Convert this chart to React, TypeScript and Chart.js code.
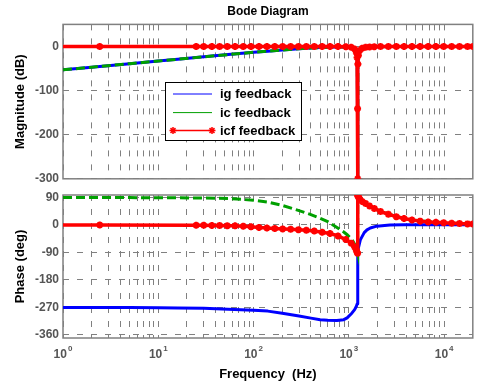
import React, { useEffect, useRef } from 'react';
import { Chart, registerables } from 'chart.js';
import { drawPoint } from 'chart.js/helpers';

Chart.register(...registerables);

// ---------------- data ----------------
// frequency grid of the two plain curves (Hz)
const lineFreqHz = [1, 2, 5, 10, 16, 30, 54, 100, 141, 200, 300, 400, 500, 600, 750, 885, 960, 1080, 1150, 1200, 1225, 1235, 1240, 1245, 1260, 1320, 1450, 1550, 1680, 1960, 2700, 3800, 5000, 7000, 10000, 14000, 20000];

const igMagDb = [-53, -47, -39, -33, -29, -23.5, -18.5, -13.3, -10.6, -7.9, -5.1, -3.6, -2.6, -1.9, -1.3, -1.2, -1.5, -3, -6, -13, -25, -141, -300, -40, -20, -8, -3, -2, -1.2, -0.6, -0.2, 0, 0, 0, 0, 0, 0];
const icMagDb = [-53, -47, -39, -33, -29, -23.5, -18.5, -13.3, -10.6, -7.9, -5.1, -3.6, -2.6, -1.9, -1.3, -1.2, -1.5, -3, -6, -13, -25, -141, -300, -40, -20, -8, -3, -2, -1.2, -0.6, -0.2, 0, 0, 0, 0, 0, 0];

const igPhaseDeg = [-270, -270, -270.5, -271, -271.5, -273, -276, -279, -282, -289, -298, -305, -310, -312, -313, -310, -304, -288, -277, -266, -258, -252, -97, -90, -75, -49, -25, -16, -10, -4, 0, 1, 1, 1, 1, 1, 1];
const icPhaseDeg = [90, 90, 89.5, 89, 89, 88, 86.5, 81, 75, 64, 47, 34, 22, 11, -8, -23, -32, -48, -63, -76, -85, -90, 97, 95, 91, 84, 73, 67, 61, 50, 34, 21, 15, 10.5, 7, 5, 3];

// frequency grid of the marked curve (Hz)
const icfFreqHz = [0.9, 2.43, 25, 30, 36.5, 44, 53, 64, 78, 94, 114, 138, 167, 202, 245, 296, 358, 434, 525, 635, 769, 931, 1060, 1150, 1200, 1220, 1235, 1240, 1245, 1260, 1300, 1380, 1500, 1650, 1850, 2150, 2600, 3150, 3800, 4600, 5600, 6800, 8200, 9900, 12000, 14500, 17600, 20000];
const icfMagDb = [0, 0, 0, 0, 0, 0, 0, 0, 0, 0, 0, 0, 0, 0, 0, 0, 0, 0, 0, 0, 0, -0.5, -2, -6, -14, -25, -141, -300, -40, -20, -9, -4, -2, -1, -0.5, 0, 0, 0, 0, 0, 0, 0, 0, 0, 0, 0, 0, 0];
const icfPhaseDeg = [0, 0, -1, -1, -1.5, -2, -2.5, -3, -4, -6, -8, -10, -11.5, -13, -14, -15.5, -17.5, -20, -24, -28, -36, -48, -60, -72, -83, -89, -93, 97, 95, 91, 85, 77, 70, 62, 54, 44, 35, 27, 21, 16, 12.5, 10, 8.5, 7, 5.5, 4.5, 3.5, 3];

const seriesLabels = ['ig feedback', 'ic feedback', 'icf feedback'];

// axis ticks
const xGridHz = [1, 2, 3, 4, 5, 6, 7, 8, 9, 10, 20, 30, 40, 50, 60, 70, 80, 90, 100, 200, 300, 400, 500, 600, 700, 800, 900, 1000, 2000, 3000, 4000, 5000, 6000, 7000, 8000, 9000, 10000];
const xDecadeValues = [1, 10, 100, 1000, 10000];
const xDecadeBase = '10';
const xDecadeExponents = ['0', '1', '2', '3', '4'];
const magTicks = [-300, -200, -100, 0];
const phaseTicks = [-360, -270, -180, -90, 0, 90];

// ---------------- styling ----------------
const FONT = "'Liberation Sans', Arial, Helvetica, sans-serif";
const GRID = '#808080';
const TICK_COLOR = '#555555';
const DASH = [6, 8];
const COLORS = ['#0000ff', '#00a000', '#ff0000'];

Chart.defaults.font.family = FONT;

const pts = (xs: number[], ys: number[]) => xs.map((x, i) => ({ x, y: ys[i] }));

const boxPlugin = {
  id: 'matlabBox',
  beforeDatasetsDraw(chart: any) {
    const { ctx, chartArea } = chart;
    const { left, top, right, bottom } = chartArea;
    ctx.save();
    ctx.strokeStyle = '#808080';
    ctx.lineWidth = 1.5;
    ctx.setLineDash([]);
    ctx.strokeRect(left, top, right - left, bottom - top);
    ctx.restore();
  },
};

// decade labels "10^n" with a raised exponent, placed by the x scale
const decadeLabelPlugin = {
  id: 'decadeLabels',
  afterDraw(chart: any) {
    const { ctx, chartArea } = chart;
    const xs = chart.scales.x;
    const yMid = chartArea.bottom + 17;
    ctx.save();
    ctx.fillStyle = TICK_COLOR;
    ctx.textBaseline = 'middle';
    ctx.textAlign = 'left';
    xDecadeValues.forEach((v, i) => {
      const px = xs.getPixelForValue(v);
      ctx.font = `bold 12px ${FONT}`;
      const wb = ctx.measureText(xDecadeBase).width;
      ctx.font = `bold 8px ${FONT}`;
      const we = ctx.measureText(xDecadeExponents[i]).width;
      const x0 = px - (wb + 1 + we) / 2;
      ctx.font = `bold 12px ${FONT}`;
      ctx.fillText(xDecadeBase, x0, yMid);
      ctx.font = `bold 8px ${FONT}`;
      ctx.fillText(xDecadeExponents[i], x0 + wb + 1, yMid - 6);
    });
    ctx.restore();
  },
};

const legendPlugin = {
  id: 'bodeLegend',
  afterDraw(chart: any) {
    const ctx = chart.ctx;
    const x0 = 165, y0 = 82, w = 136, h = 58;
    const rows = [94, 112.6, 130.6];
    ctx.save();
    ctx.setLineDash([]);
    ctx.fillStyle = '#ffffff';
    ctx.fillRect(x0, y0, w, h);
    ctx.strokeStyle = '#000000';
    ctx.lineWidth = 1;
    ctx.strokeRect(x0 + 0.5, y0 + 0.5, w, h);
    chart.data.datasets.forEach((ds: any, i: number) => {
      const y = rows[i];
      ctx.strokeStyle = ds.borderColor;
      ctx.fillStyle = ds.borderColor;
      ctx.lineWidth = ds.pointStyle ? 1.5 : 1;
      ctx.beginPath();
      ctx.moveTo(173, y);
      ctx.lineTo(212, y);
      ctx.stroke();
      if (ds.pointStyle) {
        ctx.lineWidth = 1.5;
        drawPoint(ctx, { pointStyle: ds.pointStyle, radius: 3.5, borderWidth: 1.5, rotation: 0 } as any, 173, y);
        drawPoint(ctx, { pointStyle: ds.pointStyle, radius: 3.5, borderWidth: 1.5, rotation: 0 } as any, 212, y);
      }
      ctx.fillStyle = '#000000';
      ctx.font = `bold 13px ${FONT}`;
      ctx.textBaseline = 'middle';
      ctx.textAlign = 'left';
      ctx.fillText(ds.label, 220, y + 0.5);
    });
    ctx.restore();
  },
};

function makeDatasets(igY: number[], icY: number[], icfY: number[]) {
  return [
    {
      label: seriesLabels[0],
      data: pts(lineFreqHz, igY),
      borderColor: COLORS[0],
      backgroundColor: COLORS[0],
      borderWidth: 3,
      pointRadius: 0,
      borderJoinStyle: 'round',
      order: 2,
    },
    {
      label: seriesLabels[1],
      data: pts(lineFreqHz, icY),
      borderColor: COLORS[1],
      backgroundColor: COLORS[1],
      borderWidth: 3,
      borderDash: [9, 4],
      pointRadius: 0,
      order: 1,
    },
    {
      label: seriesLabels[2],
      data: pts(icfFreqHz, icfY),
      borderColor: COLORS[2],
      backgroundColor: COLORS[2],
      borderWidth: 3.5,
      borderJoinStyle: 'round',
      pointStyle: 'star',
      pointRadius: 3.5,
      pointBorderWidth: 2.2,
      pointBorderColor: COLORS[2],
      pointBackgroundColor: COLORS[2],
      order: 0,
    },
  ];
}

function xAxis(showLabels: boolean) {
  return {
    type: 'logarithmic',
    min: 1,
    max: 20000,
    afterBuildTicks: (s: any) => {
      s.ticks = xGridHz.map((v) => ({ value: v }));
    },
    afterFit: (s: any) => {
      s.height = showLabels ? 47 : 0;
    },
    ticks: {
      display: false,
      autoSkip: false,
      maxRotation: 0,
      minRotation: 0,
    },
    grid: { color: GRID, lineWidth: 1, drawTicks: false },
    border: { display: false, dash: DASH },
    title: {
      display: showLabels,
      text: 'Frequency  (Hz)',
      color: '#000000',
      font: { size: 13, weight: 'bold' },
      padding: { top: 0, bottom: 3 },
    },
  };
}

function yAxis(min: number, max: number, ticks: number[], title: string) {
  return {
    type: 'linear',
    min,
    max,
    afterBuildTicks: (s: any) => {
      s.ticks = ticks.map((v) => ({ value: v }));
    },
    afterFit: (s: any) => {
      s.width = 63;
    },
    ticks: {
      autoSkip: false,
      padding: 4,
      color: TICK_COLOR,
      font: { size: 12, weight: 'bold' },
      callback: (v: any) => String(v),
    },
    grid: { color: GRID, lineWidth: 1, drawTicks: false },
    border: { display: false, dash: DASH },
    title: {
      display: true,
      text: title,
      color: '#000000',
      font: { size: 13, weight: 'bold' },
      padding: { top: 12.7, bottom: 0 },
    },
  };
}

function magnitudeConfig(): any {
  return {
    type: 'line',
    data: { datasets: makeDatasets(igMagDb, icMagDb, icfMagDb) },
    options: {
      responsive: false,
      animation: false,
      events: [],
      layout: { padding: { top: 0, left: 0, right: 1, bottom: 6.7 } },
      scales: {
        x: xAxis(false),
        y: yAxis(-300, 50, magTicks, 'Magnitude (dB)'),
      },
      plugins: {
        legend: { display: false },
        tooltip: { enabled: false },
        title: {
          display: true,
          text: 'Bode Diagram',
          fullSize: false,
          color: '#000000',
          font: { size: 12, weight: 'bold' },
          padding: { top: 4, bottom: 6 },
        },
      },
    },
    plugins: [boxPlugin, legendPlugin],
  };
}

function phaseConfig(): any {
  return {
    type: 'line',
    data: { datasets: makeDatasets(igPhaseDeg, icPhaseDeg, icfPhaseDeg) },
    options: {
      responsive: false,
      animation: false,
      events: [],
      layout: { padding: { top: 12, left: 0, right: 1, bottom: 0 } },
      scales: {
        x: xAxis(true),
        y: yAxis(-370, 98, phaseTicks, 'Phase (deg)'),
      },
      plugins: {
        legend: { display: false },
        tooltip: { enabled: false },
      },
    },
    plugins: [boxPlugin, decadeLabelPlugin],
  };
}

export default function App() {
  const topRef = useRef<HTMLCanvasElement>(null);
  const bottomRef = useRef<HTMLCanvasElement>(null);

  useEffect(() => {
    const top = new Chart(topRef.current as HTMLCanvasElement, magnitudeConfig());
    const bottom = new Chart(bottomRef.current as HTMLCanvasElement, phaseConfig());
    return () => {
      top.destroy();
      bottom.destroy();
    };
  }, []);

  return (
    <div style={{ position: 'fixed', left: 0, top: 0, width: 479, height: 385, background: '#ffffff' }}>
      <canvas ref={topRef} width={479} height={190} style={{ position: 'absolute', left: 0, top: 0 }} />
      <canvas ref={bottomRef} width={479} height={202} style={{ position: 'absolute', left: 0, top: 183 }} />
    </div>
  );
}
